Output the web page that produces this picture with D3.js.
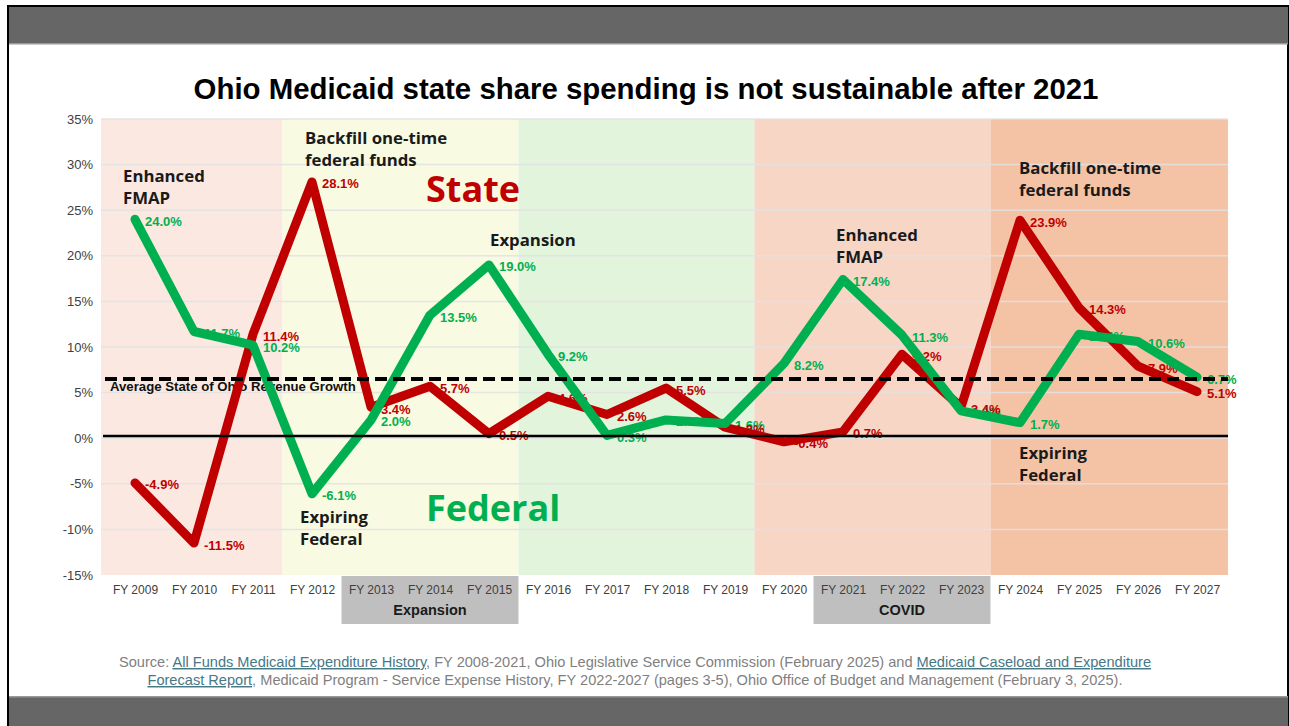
<!DOCTYPE html>
<head>
  <meta charset="utf-8">
  <style>
    body { margin: 0; background: #fff; }
    svg text { font-family: "Liberation Sans", Arial, sans-serif; }
    svg .tick text { fill: #404040; }
    svg .note { font-family: "Open Sans", sans-serif; font-weight: bold; fill: #1a1a1a; }
    svg .lbl { font-size: 13px; font-weight: bold; }
  </style>
</head>
<body>
<script src="https://d3js.org/d3.v7.min.js"></script>
<script>
  // data
  var years = ["FY 2009", "FY 2010", "FY 2011", "FY 2012", "FY 2013", "FY 2014", "FY 2015",
               "FY 2016", "FY 2017", "FY 2018", "FY 2019", "FY 2020", "FY 2021", "FY 2022",
               "FY 2023", "FY 2024", "FY 2025", "FY 2026", "FY 2027"];
  var stateGrowth   = [-4.9, -11.5, 11.4, 28.1, 3.4, 5.7, 0.5, 4.6, 2.6, 5.5, 1.2, -0.4, 0.7, 9.2, 3.4, 23.9, 14.3, 7.9, 5.1];
  var federalGrowth = [24.0, 11.7, 10.2, -6.1, 2.0, 13.5, 19.0, 9.2, 0.3, 2.0, 1.6, 8.2, 17.4, 11.3, 3.0, 1.7, 11.4, 10.6, 6.7];
  var yTicks = [-15, -10, -5, 0, 5, 10, 15, 20, 25, 30, 35];
  var avgRevenueGrowth = 6.5;
  var baseLine = 0.25;

  // shaded periods (first year, last year)
  var periodStart = ["FY 2009", "FY 2012", "FY 2016", "FY 2020", "FY 2024"];
  var periodEnd   = ["FY 2011", "FY 2015", "FY 2019", "FY 2023", "FY 2027"];
  var periodColors = ["#FBE9E1", "#F9FAE2", "#E3F4DD", "#F8D6C6", "#F4C3A6"];

  // grey boxes under the axis
  var groupLabels = ["Expansion", "COVID"];
  var groupStart  = ["FY 2013", "FY 2021"];
  var groupEnd    = ["FY 2015", "FY 2023"];

  // black notes: lines of text, anchor year, value of first baseline
  var noteText  = [["Enhanced", "FMAP"], ["Backfill one-time", "federal funds"], ["Expansion"],
                   ["Expiring", "Federal"], ["Enhanced", "FMAP"], ["Backfill one-time", "federal funds"],
                   ["Expiring", "Federal"]];
  var noteYear  = ["FY 2009", "FY 2012", "FY 2015", "FY 2012", "FY 2021", "FY 2024", "FY 2024"];
  var noteValue = [28.1, 32.3, 21.1, -9.3, 21.6, 29.0, -2.3];

  var red = "#C00000", green = "#00B050";

  var W = 1289, H = 726;
  var plotLeft = 101, plotRight = 1228, plotTop = 119, plotBottom = 575;

  var svg = d3.select("body").append("svg")
      .attr("width", W)
      .attr("height", H);

  // slide frame and grey bars
  svg.append("rect")
      .attr("x", 8).attr("y", 6)
      .attr("width", W - 9).attr("height", H)
      .style("fill", "#fff").style("stroke", "#000").style("stroke-width", 2);
  svg.append("rect")
      .attr("x", 9).attr("y", 7).attr("width", W - 10).attr("height", 37)
      .style("fill", "#666");
  svg.append("rect")
      .attr("x", 9).attr("y", 43).attr("width", W - 10).attr("height", 1.5)
      .style("fill", "#999");
  svg.append("rect")
      .attr("x", 9).attr("y", 696).attr("width", W - 10).attr("height", 30)
      .style("fill", "#666");
  svg.append("rect")
      .attr("x", 9).attr("y", 696).attr("width", W - 10).attr("height", 1.5)
      .style("fill", "#999");

  // title
  svg.append("text")
      .attr("x", 646).attr("y", 99)
      .attr("text-anchor", "middle")
      .style("font-size", "29.4px").style("font-weight", "bold").style("fill", "#000")
      .text("Ohio Medicaid state share spending is not sustainable after 2021");

  // scales
  var xScale = d3.scalePoint().domain(years).range([135, 1197]);
  var step = xScale.step();
  var yScale = d3.scaleLinear().domain([-15, 35]).range([plotBottom, plotTop]);

  // background periods
  svg.selectAll("rect.period")
    .data(periodStart)
    .enter().append("rect")
      .classed("period", true)
      .attr("x", function(d, i) { return i === 0 ? plotLeft : xScale(d) - step / 2; })
      .attr("width", function(d, i) {
        var x0 = i === 0 ? plotLeft : xScale(d) - step / 2;
        var x1 = i === periodStart.length - 1 ? plotRight : xScale(periodEnd[i]) + step / 2;
        return x1 - x0;
      })
      .attr("y", plotTop)
      .attr("height", plotBottom - plotTop)
      .style("fill", function(d, i) { return periodColors[i]; });

  // horizontal grid lines
  svg.selectAll("line.grid")
    .data(yTicks.slice(1))
    .enter().append("line")
      .attr("x1", plotLeft).attr("x2", plotRight)
      .attr("y1", function(d) { return yScale(d); })
      .attr("y2", function(d) { return yScale(d); })
      .style("stroke", "#E2E2E2").style("stroke-width", 1.5).style("opacity", 0.85);

  // y axis
  var yAxis = d3.axisLeft(yScale)
      .tickValues(yTicks)
      .tickFormat(function(d) { return d + "%"; })
      .tickSize(0)
      .tickPadding(8);
  svg.append("g")
      .attr("transform", "translate(" + plotLeft + ",0)")
      .call(yAxis)
      .style("font-size", "13px")
    .select(".domain").remove();

  // grey group boxes under axis
  svg.selectAll("rect.group")
    .data(groupLabels)
    .enter().append("rect")
      .attr("x", function(d, i) { return xScale(groupStart[i]) - step / 2; })
      .attr("width", function(d, i) { return xScale(groupEnd[i]) - xScale(groupStart[i]) + step; })
      .attr("y", plotBottom + 1)
      .attr("height", 48)
      .style("fill", "#BFBFBF");
  svg.selectAll("text.group")
    .data(groupLabels)
    .enter().append("text")
      .attr("x", function(d, i) { return (xScale(groupStart[i]) + xScale(groupEnd[i])) / 2; })
      .attr("y", plotBottom + 40)
      .attr("text-anchor", "middle")
      .style("font-size", "14.5px").style("font-weight", "bold").style("fill", "#1a1a1a")
      .text(function(d) { return d; });

  // x axis
  var xAxis = d3.axisBottom(xScale).tickSize(0).tickPadding(10);
  svg.append("g")
      .attr("transform", "translate(0," + plotBottom + ")")
      .call(xAxis)
      .style("font-size", "12px")
    .select(".domain").remove();

  // average revenue growth label
  svg.append("text")
      .attr("x", plotLeft + 9)
      .attr("y", yScale(avgRevenueGrowth) + 12)
      .style("font-size", "13.2px").style("font-weight", "bold").style("fill", "#111")
      .text("Average State of Ohio Revenue Growth");

  // data labels (under the lines, as in the original)
  function addLabels(values, color) {
    svg.append("g").selectAll("text")
      .data(values)
      .enter().append("text")
        .classed("lbl", true)
        .attr("x", function(d, i) { return xScale(years[i]) + 10; })
        .attr("y", function(d) { return yScale(d) + 2; })
        .attr("dominant-baseline", "central")
        .style("fill", color)
        .text(function(d) { return d.toFixed(1) + "%"; });
  }
  addLabels(federalGrowth, green);
  addLabels(stateGrowth, red);

  // lines
  var line = d3.line()
      .x(function(d, i) { return xScale(years[i]); })
      .y(function(d) { return yScale(d); });

  svg.append("path")
      .datum(stateGrowth)
      .attr("d", line)
      .style("fill", "none").style("stroke", red)
      .style("stroke-width", 9).style("stroke-linejoin", "round").style("stroke-linecap", "round");
  svg.append("path")
      .datum(federalGrowth)
      .attr("d", line)
      .style("fill", "none").style("stroke", green)
      .style("stroke-width", 9).style("stroke-linejoin", "round").style("stroke-linecap", "round");

  // zero line and average line
  svg.append("line")
      .attr("x1", plotLeft + 2).attr("x2", plotRight)
      .attr("y1", yScale(baseLine)).attr("y2", yScale(baseLine))
      .style("stroke", "#000").style("stroke-width", 2.5);
  svg.append("line")
      .attr("x1", plotLeft + 4).attr("x2", plotRight)
      .attr("y1", yScale(avgRevenueGrowth)).attr("y2", yScale(avgRevenueGrowth))
      .style("stroke", "#000").style("stroke-width", 4).style("stroke-dasharray", "12,6");

  // black notes
  var noteDx = [-12, -7, 1, -12, -7, -1, -1];
  noteText.forEach(function(lines, i) {
    var t = svg.append("text")
        .classed("note", true)
        .attr("x", xScale(noteYear[i]) + noteDx[i])
        .attr("y", yScale(noteValue[i]))
        .style("font-size", "16.8px");
    lines.forEach(function(s, j) {
      t.append("tspan")
          .attr("x", xScale(noteYear[i]) + noteDx[i])
          .attr("dy", j === 0 ? 0 : 22)
          .text(s);
    });
  });

  // big series names
  svg.append("text")
      .classed("note", true)
      .attr("x", xScale("FY 2014") - 4).attr("y", yScale(25.9))
      .style("font-size", "36px").style("fill", red)
      .text("State");
  svg.append("text")
      .classed("note", true)
      .attr("x", xScale("FY 2014") - 4).attr("y", yScale(-9.1))
      .style("font-size", "36px").style("fill", green)
      .text("Federal");

  // source note
  var src = svg.append("text")
      .attr("text-anchor", "middle")
      .style("font-size", "14.6px").style("fill", "#7F7F7F");
  var l1 = src.append("tspan").attr("x", 635).attr("y", 667);
  l1.append("tspan").text("Source: ");
  l1.append("tspan").style("fill", "#467886").style("text-decoration", "underline")
      .text("All Funds Medicaid Expenditure History");
  l1.append("tspan").text(", FY 2008-2021, Ohio Legislative Service Commission (February 2025) and ");
  l1.append("tspan").style("fill", "#467886").style("text-decoration", "underline")
      .text("Medicaid Caseload and Expenditure");
  var l2 = src.append("tspan").attr("x", 635).attr("y", 685);
  l2.append("tspan").style("fill", "#467886").style("text-decoration", "underline")
      .text("Forecast Report");
  l2.append("tspan")
      .text(", Medicaid Program - Service Expense History, FY 2022-2027 (pages 3-5), Ohio Office of Budget and Management (February 3, 2025).");
</script>
</body>
</html>
